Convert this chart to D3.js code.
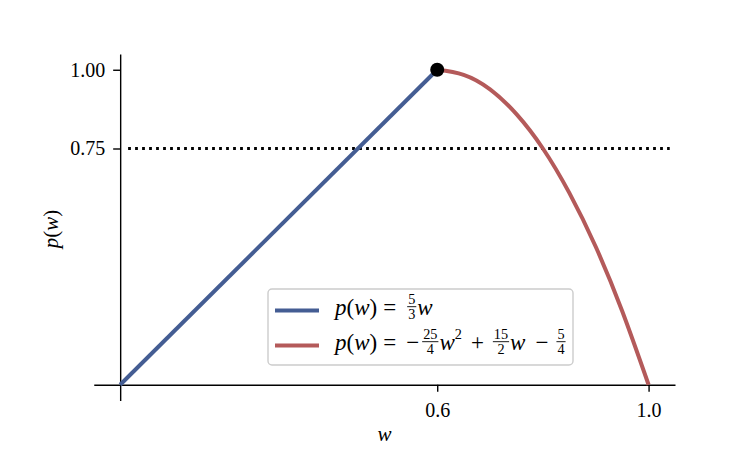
<!DOCTYPE html>
<html>
<head>
<meta charset="utf-8">
<script src="https://cdn.jsdelivr.net/npm/d3@7"></script>
<style>
body { margin: 0; background: #fff; }
text { font-family: "Liberation Serif", "DejaVu Serif", serif; fill: #000; }
</style>
</head>
<body>
<script>
// linear part p(w) = 5/3 w
var linearW = [0, 0.6];
var linearP = [0, 1.0];
// quadratic part
var quadW = [0.6, 0.65, 0.7, 0.75, 0.8, 0.85, 0.9, 0.95, 1.0];
var quadP = [1.0, 0.984, 0.938, 0.859, 0.75, 0.609, 0.438, 0.234, 0.0];
var peakPoint = [0.6, 1.0];
var thresholdP = 0.75;
var thresholdSpan = [0.015, 1.04];
var xTicks = [0.6, 1.0], xTickLabels = ["0.6", "1.0"];
var yTicks = [0.75, 1.0], yTickLabels = ["0.75", "1.00"];

var width = 750, height = 450;
var margin = {left: 93.75, right: 75, top: 54, bottom: 49.5};
var blue = "#445d93", red = "#b45a5a";

var svg = d3.select("body").append("svg")
    .attr("width", width).attr("height", height);

var x = d3.scaleLinear().domain([-0.05, 1.05]).range([margin.left, width - margin.right]);
var y = d3.scaleLinear().domain([-0.05, 1.05]).range([height - margin.bottom, margin.top]);

// axes (spines through zero)
var xaxis = d3.axisBottom(x).tickValues(xTicks)
    .tickFormat(function(d, i) { return xTickLabels[i]; })
    .tickSizeInner(7).tickSizeOuter(0).tickPadding(11);
var yaxis = d3.axisLeft(y).tickValues(yTicks)
    .tickFormat(function(d, i) { return yTickLabels[i]; })
    .tickSizeInner(7).tickSizeOuter(0).tickPadding(8);

var gx = svg.append("g").attr("transform", "translate(0," + y(0) + ")").call(xaxis);
var gy = svg.append("g").attr("transform", "translate(" + x(0) + ",0)").call(yaxis);
[gx, gy].forEach(function(g) {
  g.selectAll("text").style("font-family", "'Liberation Serif', serif").style("font-size", "20px").attr("fill", "#000");
  g.selectAll("line").attr("stroke", "#000").attr("stroke-width", 1.4);
  g.select(".domain").attr("stroke", "#000").attr("stroke-width", 1.4);
});

// threshold
svg.append("line")
    .attr("x1", x(thresholdSpan[0])).attr("x2", x(thresholdSpan[1]))
    .attr("y1", y(thresholdP)).attr("y2", y(thresholdP))
    .attr("stroke", "#000").attr("stroke-width", 2.8)
    .attr("stroke-dasharray", "2.8,4.2");

var line = d3.line().x(function(d) { return x(d[0]); }).y(function(d) { return y(d[1]); });

svg.append("path")
    .datum(d3.zip(linearW, linearP))
    .attr("d", line.curve(d3.curveLinear))
    .attr("fill", "none").attr("stroke", blue).attr("stroke-width", 4);

svg.append("path")
    .datum(d3.zip(quadW, quadP))
    .attr("d", line.curve(d3.curveNatural))
    .attr("fill", "none").attr("stroke", red).attr("stroke-width", 4);

svg.append("circle")
    .attr("cx", x(peakPoint[0])).attr("cy", y(peakPoint[1])).attr("r", 7)
    .attr("fill", "#000");

// math text helper: plain/italic runs, fractions, superscripts, gaps
function mathText(g, x0, base, parts, size) {
  var cx = x0, small = size * 0.62;
  parts.forEach(function(p) {
    if (p.gap) { cx += p.gap; return; }
    if (p.frac) {
      var n = g.append("text").attr("y", base - size * 0.45).style("font-size", small + "px").attr("text-anchor", "middle").text(p.frac[0]);
      var d = g.append("text").attr("y", base + size * 0.18).style("font-size", small + "px").attr("text-anchor", "middle").text(p.frac[1]);
      var w = Math.max(n.node().getComputedTextLength(), d.node().getComputedTextLength()) + 2;
      n.attr("x", cx + w / 2); d.attr("x", cx + w / 2);
      g.append("line").attr("x1", cx).attr("x2", cx + w)
        .attr("y1", base - size * 0.34).attr("y2", base - size * 0.34)
        .attr("stroke", "#000").attr("stroke-width", 0.9);
      cx += w;
      return;
    }
    var t = g.append("text").attr("x", cx)
        .attr("y", p.sup ? base - size * 0.45 : base)
        .style("font-size", (p.sup ? small : size) + "px")
        .style("font-style", p.it ? "italic" : "normal")
        .text(p.t);
    cx += t.node().getComputedTextLength();
  });
  return cx;
}

// axis labels
var xl = svg.append("g");
mathText(xl, x(0.5) - 7, 441, [{t: "w", it: true}], 21);
var yl = svg.append("g").attr("transform", "translate(58," + (y(0.5) + 21) + ") rotate(-90)");
mathText(yl, 0, 0, [{t: "p", it: true}, {t: "("}, {t: "w", it: true}, {t: ")"}], 21);

// legend
var pw = [{t: "p", it: true}, {t: "("}, {t: "w", it: true}, {t: ")"}];
var legendLabels = [
  pw.concat([{gap: 6}, {t: "="}, {gap: 11}, {frac: ["5", "3"]}, {gap: 1}, {t: "w", it: true}]),
  pw.concat([{gap: 6}, {t: "="}, {gap: 10}, {t: "\u2212"}, {gap: 3}, {frac: ["25", "4"]}, {gap: 1}, {t: "w", it: true}, {t: "2", sup: true},
    {gap: 9}, {t: "+"}, {gap: 9}, {frac: ["15", "2"]}, {gap: 1}, {t: "w", it: true},
    {gap: 10}, {t: "\u2212"}, {gap: 8}, {frac: ["5", "4"]}])
];
var legendColors = [blue, red];

var lg = svg.append("g");
lg.append("rect").attr("x", 268).attr("y", 289).attr("width", 305).attr("height", 76)
    .attr("rx", 4).attr("fill", "#fff").attr("fill-opacity", 0.8)
    .attr("stroke", "#ccc").attr("stroke-width", 1.4);
legendLabels.forEach(function(parts, i) {
  var cy = 310.5 + i * 35;
  lg.append("line").attr("x1", 275).attr("x2", 319).attr("y1", cy).attr("y2", cy)
      .attr("stroke", legendColors[i]).attr("stroke-width", 4);
  mathText(lg, 335, cy + 4, parts, 23);
});
</script>
</body>
</html>
